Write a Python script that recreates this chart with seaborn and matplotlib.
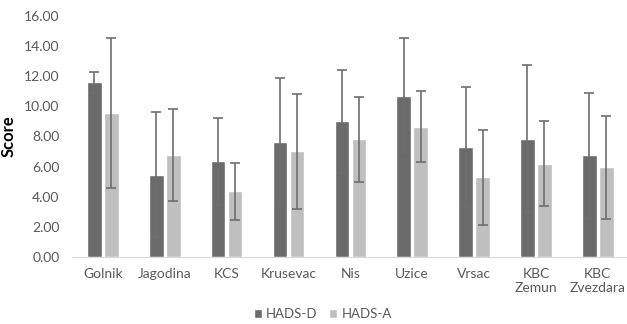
import numpy as np
import pandas as pd
import matplotlib
matplotlib.use("Agg")
import matplotlib.pyplot as plt
import seaborn as sns

# values
sites = ["Golnik", "Jagodina", "KCS", "Krusevac", "Nis", "Uzice", "Vrsac", "KBC\nZemun", "KBC\nZvezdara"]
hads_d = [11.6, 5.45, 6.35, 7.65, 9.0, 10.7, 7.3, 7.85, 6.75]
hads_d_sd = [0.7, 4.15, 2.9, 4.25, 3.4, 3.8, 4.0, 4.9, 4.15]
hads_a = [9.55, 6.75, 4.35, 7.0, 7.8, 8.65, 5.3, 6.2, 5.95]
hads_a_sd = [4.95, 3.05, 1.9, 3.8, 2.8, 2.35, 3.15, 2.85, 3.4]

df = pd.DataFrame({
    "site": sites * 2,
    "score": hads_d + hads_a,
    "sd": hads_d_sd + hads_a_sd,
    "scale": ["HADS-D"] * len(sites) + ["HADS-A"] * len(sites),
})

sns.set_style("white")
plt.rcParams["font.family"] = ["Lato", "DejaVu Sans"]

fig = plt.figure(figsize=(6.27, 3.24), dpi=100)
ax = fig.add_axes([0.1148, 0.207, 0.888, 0.744])

sns.barplot(data=df, x="site", y="score", hue="scale", order=sites,
            palette=["#6b6b6b", "#bfbfbf"], width=0.55, gap=0.14,
            errorbar=None, saturation=1, ax=ax)

# error bars on the bar centers
for cont, sd in zip(ax.containers, [hads_d_sd, hads_a_sd]):
    xs = [p.get_x() + p.get_width() / 2 for p in cont.patches]
    ys = [p.get_height() for p in cont.patches]
    ax.errorbar(xs, ys, yerr=sd, fmt="none", ecolor="#6e6e6e",
                elinewidth=1.2, capsize=3.5, capthick=1.2)

ax.set_ylim(0, 16)
ax.set_xlim(-0.5, len(sites) - 0.5)
ax.set_yticks(np.arange(0, 17, 2))
ax.set_yticklabels([f"{v:.2f}" for v in np.arange(0, 17, 2)])
ax.tick_params(axis="both", length=0, labelsize=10, colors="#595959")
ax.tick_params(axis="x", pad=8)
ax.tick_params(axis="y", pad=9)
ax.set_xlabel("")
ax.set_ylabel("Score", fontsize=12, fontweight="bold", color="black")
ax.yaxis.set_label_coords(-0.1, 0.5)
sns.despine(ax=ax, left=True)
ax.spines["bottom"].set_color("#d9d9d9")

handles, labels = ax.get_legend_handles_labels()
ax.get_legend().remove()
fig.legend(handles, labels, loc="center", bbox_to_anchor=(0.515, 0.03), ncol=2,
           frameon=False, fontsize=9.5, handlelength=0.6, handleheight=0.6,
           handletextpad=0.3, columnspacing=0.9, labelcolor="#595959",
           borderpad=0.1)

fig.savefig("out.png", dpi=100)
